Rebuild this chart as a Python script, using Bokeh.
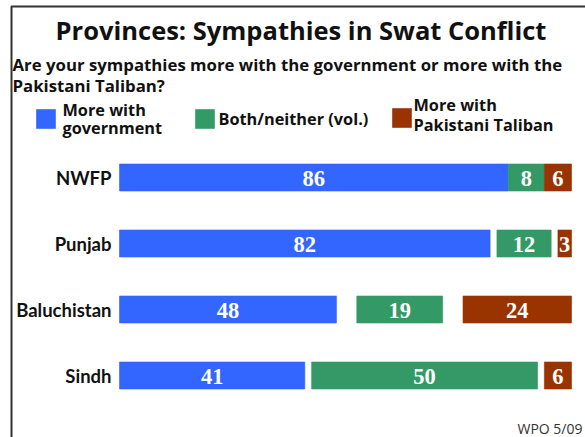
from bokeh.plotting import figure
from bokeh.models import Range1d, ColumnDataSource
from bokeh.core.properties import value
from bokeh.embed import file_html
from bokeh.resources import INLINE

# ---- data ----
provinces = ["NWFP", "Punjab", "Baluchistan", "Sindh"]
gov = [86, 82, 48, 41]
both = [8, 12, 19, 50]
taliban = [6, 3, 24, 6]
series_names = ["More with\ngovernment", "Both/neither (vol.)", "More with\nPakistani Taliban"]
colors = ["#3366FF", "#339966", "#993300"]

title_text = "Provinces: Sympathies in Swat Conflict"
subtitle_lines = ["Are your sympathies more with the government or more with the",
                  "Pakistani Taliban?"]
source_text = "WPO 5/09"

# ---- layout: the frame fills the canvas; percent axis mapped to 119..571 px ----
FW, FH = 585, 437
PL, PW = 119, 452          # pixel left / width of 0..100 %
ROW0, ROWH = 408, 66       # pixel bottom of the bar area / height of one row

def X(px):
    return (px - PL) / PW * 100.0

def Y(py):
    return (ROW0 - py) / ROWH

p = figure(width=FW, height=FH, output_backend="svg", toolbar_location=None,
           x_range=Range1d(X(0), X(FW)), y_range=Range1d(Y(FH), Y(0)),
           min_border=0, min_border_left=0, min_border_right=0,
           min_border_top=0, min_border_bottom=0)
p.xaxis.visible = False
p.yaxis.visible = False
p.xgrid.visible = False
p.ygrid.visible = False
p.outline_line_color = None
p.background_fill_color = "white"
p.border_fill_color = "white"

n = len(provinces)
ypos = [n - 0.5 - i for i in range(n)]   # first category at top

# category labels
p.text(x=[X(111)] * n, y=ypos, text=provinces, text_align="right", text_baseline="middle",
       text_font=value("Lato"), text_font_style="bold", text_font_size="18.5px",
       text_color="#111111")

# segment positions: government from 0, Taliban ending at 100, gaps split evenly
gaps = [(100 - g - b - t) / 2.0 for g, b, t in zip(gov, both, taliban)]
segs = [
    ([0] * n, list(gov)),
    ([g + gp for g, gp in zip(gov, gaps)], [g + gp + b for g, gp, b in zip(gov, gaps, both)]),
    ([100 - t for t in taliban], [100] * n),
]
vals = [gov, both, taliban]

for (lefts, rights), v, c in zip(segs, vals, colors):
    src = ColumnDataSource(dict(y=ypos, left=lefts, right=rights,
                                mid=[(a + b) / 2 for a, b in zip(lefts, rights)],
                                txt=[str(x) for x in v]))
    p.hbar(y="y", left="left", right="right", height=27 / ROWH, source=src,
           fill_color=c, line_color=c, line_alpha=0.6)
    p.text(x="mid", y="y", text="txt", source=src, text_align="center",
           text_baseline="middle", text_color="white", y_offset=1,
           text_font=value("Liberation Serif"), text_font_style="bold",
           text_font_size="22.5px")

# ---- frame border (top and left) ----
p.line(x=[X(11), X(11), X(FW + 10)], y=[Y(FH + 10), Y(6), Y(6)],
       line_color="#333333", line_width=2)

def lab(px, py, text, size, style="bold", align="left", color="#111111", font="Open Sans"):
    p.text(x=[X(px)], y=[Y(py)], text=[text], text_align=align,
           text_baseline="middle", text_font=value(font),
           text_font_style=style, text_font_size=size, text_color=color)

lab(300.5, 29, title_text, "25.5px", align="center")
lab(12, 64, subtitle_lines[0], "16.8px")
lab(12, 85, subtitle_lines[1], "16.8px")

# ---- legend ----
legend_boxes = [(36, 109), (195, 109), (392, 108)]
legend_text = [(62, [109.5, 127.5]), (218, [118.5]), (413, [104.5, 124.5])]
for (bx, by), (tx, tys), name, c in zip(legend_boxes, legend_text, series_names, colors):
    p.quad(left=[X(bx)], right=[X(bx + 19)], top=[Y(by)], bottom=[Y(by + 19)],
           fill_color=c, line_color=c, line_alpha=0.6)
    for line, ty in zip(name.split("\n"), tys):
        lab(tx, ty, line, "16.3px")

lab(582, 428, source_text, "14px", style="normal", align="right", color="#333333")

open("out.html", "w").write(file_html(p, INLINE))
